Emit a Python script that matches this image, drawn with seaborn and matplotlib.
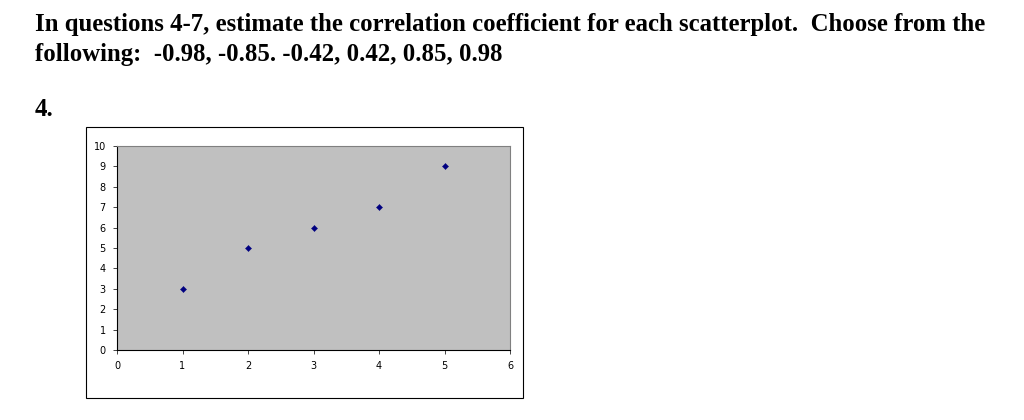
import matplotlib
matplotlib.use("Agg")
import matplotlib.pyplot as plt
import seaborn as sns
import pandas as pd

# ─── DATA ────────────────────────────────────────────────────
x_vals = [1, 2, 3, 4, 5]
y_vals = [3, 5, 6, 7, 9]
x_ticks = [0, 1, 2, 3, 4, 5, 6]
y_ticks = list(range(0, 11))

df = pd.DataFrame({"x": x_vals, "y": y_vals})

sns.set_style("white")
fig = plt.figure(figsize=(10.24, 4.2), dpi=100)

title_kw = dict(family="Liberation Serif", fontweight="bold", fontsize=17.8,
                va="center", color="black")
fig.text(35 / 1024, 1 - 25 / 420,
         "In questions 4-7, estimate the correlation coefficient for each scatterplot.  Choose from the",
         **title_kw)
fig.text(35 / 1024, 1 - 54 / 420,
         "following:  -0.98, -0.85. -0.42, 0.42, 0.85, 0.98", **title_kw)
fig.text(35 / 1024, 1 - 110 / 420, "4.", **title_kw)

# outer chart frame
frame = plt.Rectangle((86 / 1024, 22 / 420), 437 / 1024, 271 / 420,
                      transform=fig.transFigure, fill=False, edgecolor="black", lw=0.8)
fig.patches.append(frame)

ax = fig.add_axes([117 / 1024, 70 / 420, 393 / 1024, 204 / 420])
ax.set_facecolor("#c0c0c0")
sns.scatterplot(data=df, x="x", y="y", marker="D", s=10, color="#000080",
                edgecolor="#000080", ax=ax)
ax.set_xlim(0, 6)
ax.set_ylim(0, 10)
ax.set_xticks(x_ticks)
ax.set_yticks(y_ticks)
ax.set_xlabel("")
ax.set_ylabel("")
ax.tick_params(labelsize=7, length=3, width=0.6, direction="out",
               bottom=True, left=True, pad=5, labelcolor="black")
for s in ["top", "right"]:
    ax.spines[s].set_color("#808080")
    ax.spines[s].set_linewidth(0.8)
for s in ["left", "bottom"]:
    ax.spines[s].set_color("black")
    ax.spines[s].set_linewidth(0.8)

fig.savefig("out.png", dpi=100)
